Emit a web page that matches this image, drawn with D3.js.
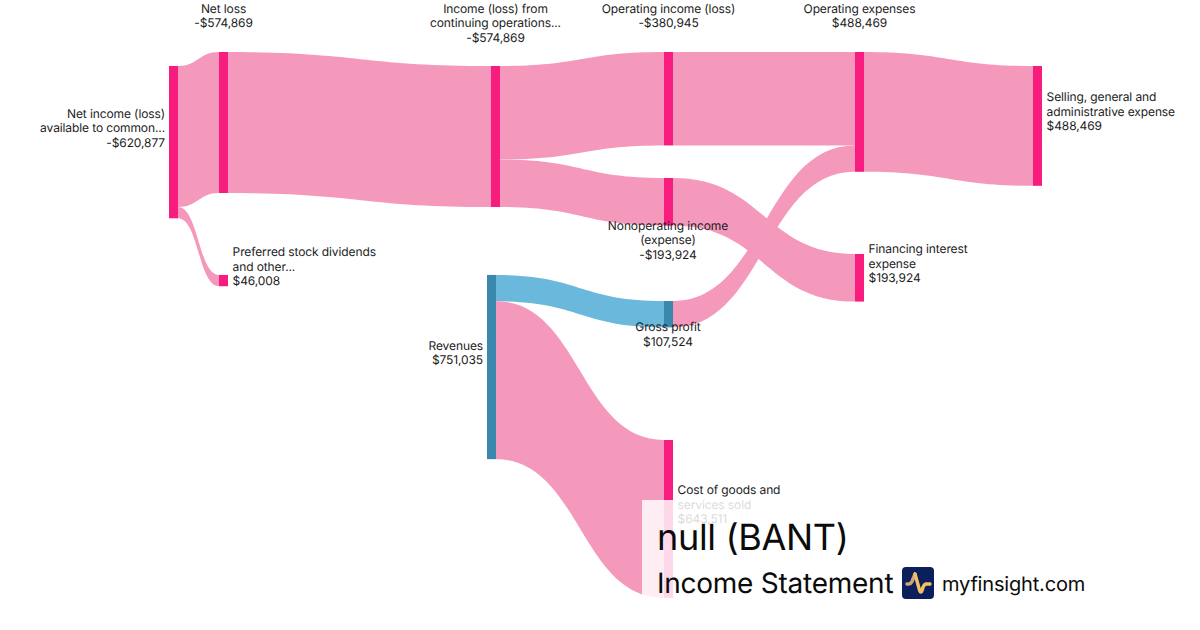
<!DOCTYPE html>
<html>
<head>
<meta charset="utf-8">
<script src="https://cdn.jsdelivr.net/npm/d3@7"></script>
<style>
html,body{margin:0;padding:0;background:#fff;width:1200px;height:630px;overflow:hidden}
text{font-family:Inter,"Noto Sans",sans-serif;text-rendering:geometricPrecision;letter-spacing:-0.009em}
</style>
</head>
<body>
<svg id="c" width="1200" height="630"></svg>
<script>
// ---- data ----
const nodeIds = ["netIncome","netLoss","preferred","income","revenues","opIncome","nonop","gross","cogs","opExp","financing","selling"];
const nodeLabels = [
  ["Net income (loss)","available to common...","-$620,877"],
  ["Net loss","-$574,869"],
  ["Preferred stock dividends","and other...","$46,008"],
  ["Income (loss) from","continuing operations...","-$574,869"],
  ["Revenues","$751,035"],
  ["Operating income (loss)","-$380,945"],
  ["Nonoperating income","(expense)","-$193,924"],
  ["Gross profit","$107,524"],
  ["Cost of goods and","services sold","$643,511"],
  ["Operating expenses","$488,469"],
  ["Financing interest","expense","$193,924"],
  ["Selling, general and","administrative expense","$488,469"]
];
const nodeValues = [620877,574869,46008,574869,751035,380945,193924,107524,643511,488469,193924,488469];
const nodeColumns = ["c0","c1","c1","c2","c2b","c3","c3","c3","c3","c4","c4","c5"];
const nodeOffsets = [57080,0,909000,57080,909000,0,513700,1015200,1582000,0,823600,57080];
const labelSides = ["left","above","right","above","left","above","below","below","right","above","right","right"];
const nodeKinds = ["cost","cost","cost","cost","rev","cost","cost","rev","cost","cost","cost","cost"];
const linkSources = ["netIncome","netIncome","netLoss","income","income","opIncome","gross","nonop","opExp","revenues","revenues"];
const linkTargets = ["netLoss","preferred","income","opIncome","nonop","opExp","opExp","financing","selling","gross","cogs"];
const linkValues = [574869,46008,574869,380945,193924,380945,107524,193924,488469,107524,643511];
const linkKinds = ["cost","cost","cost","cost","cost","cost","cost","cost","cost","rev","cost"];
const titleText = "null (BANT)";
const subtitleText = "Income Statement";
const brandText = "myfinsight.com";

// ---- scales ----
const x = d3.scaleOrdinal().domain(["c0","c1","c2","c2b","c3","c4","c5"]).range([169,219,491,487,664,855,1033]);
const y = d3.scaleLinear().domain([0,1000000]).range([52,297.27]);
const thick = v => y(v)-y(0);
const nodeW = 9;
const color = d3.scaleOrdinal().domain(["cost","rev"]);
const nodeColor = color.copy().range(["#F81C7F","#3B88AF"]);
const linkColor = color.copy().range(["#F599BC","#6BB8DD"]);

const nodes = nodeIds.map((id,i)=>({id,i,x0:x(nodeColumns[i]),y0:y(nodeOffsets[i]),h:thick(nodeValues[i]),out:0,inn:0,
  lines:nodeLabels[i],side:labelSides[i],kind:nodeKinds[i]}));
const byId = new Map(nodes.map(n=>[n.id,n]));
const links = linkSources.map((s,i)=>{
  const a=byId.get(s),b=byId.get(linkTargets[i]),w=thick(linkValues[i]);
  const l={w,kind:linkKinds[i],sx:a.x0+nodeW,sy:a.y0+a.out,tx:b.x0,ty:b.y0+b.inn};
  a.out+=w;b.inn+=w;return l;
});

// each link is a band of constant vertical thickness: a top edge and a reversed bottom edge
const band = d => {
  const mx=(d.sx+d.tx)/2;
  return `M${d.sx},${d.sy}C${mx},${d.sy} ${mx},${d.ty} ${d.tx},${d.ty}`+
         `L${d.tx},${d.ty+d.w}C${mx},${d.ty+d.w} ${mx},${d.sy+d.w} ${d.sx},${d.sy+d.w}Z`;
};
const svg = d3.select("#c");
svg.append("g").selectAll("path").data(links).join("path")
  .attr("d",band).attr("fill",d=>linkColor(d.kind));
svg.append("g").selectAll("rect").data(nodes).join("rect")
  .attr("x",d=>d.x0).attr("y",d=>d.y0).attr("width",nodeW).attr("height",d=>d.h)
  .attr("fill",d=>nodeColor(d.kind));

// labels
const lh = 14.5, fs = 12;
const labels = svg.append("g").attr("font-size",fs).attr("fill","#1c1c1c");
nodes.forEach(n=>{
  const m=n.lines.length; let tx,anchor,cy0;
  if(n.side==="left"){tx=n.x0-4;anchor="end";cy0=n.y0+n.h/2-14.3-(m-1)*lh/2;}
  else if(n.side==="right"){tx=n.x0+nodeW+4.6;anchor="start";cy0=n.y0+n.h/2-14.3-(m-1)*lh/2;}
  else if(n.side==="above"){tx=n.x0+nodeW/2;anchor="middle";cy0=8.5;}
  else {tx=n.x0+nodeW/2-0.5;anchor="middle";cy0=n.y0+n.h-0.3;}
  n.lines.forEach((t,j)=>labels.append("text").attr("x",tx).attr("y",cy0+j*lh).attr("dy","0.36em").attr("text-anchor",anchor).text(t));
});

// footer veil and titles
svg.append("rect").attr("x",642).attr("y",500).attr("width",558).attr("height",130).attr("fill","#fff").attr("opacity",0.83);
svg.append("text").attr("x",657).attr("y",550).attr("font-size",36).attr("fill","#0b0b0b").text(titleText);
svg.append("text").attr("x",657).attr("y",593).attr("font-size",28).attr("fill","#0b0b0b").text(subtitleText);
svg.append("text").attr("x",942).attr("y",591).attr("font-size",20).attr("fill","#0b0b0b").text(brandText);
const logo = svg.append("g").attr("transform","translate(902,567)");
logo.append("rect").attr("width",32).attr("height",32).attr("rx",4).attr("fill","#0A1F5C");
logo.append("path").attr("d","M5 17 C8 17.5,9 16.5,10 14.5 L13 7").attr("fill","none").attr("stroke","#D0A679").attr("stroke-width",3.4).attr("stroke-linecap","round").attr("stroke-linejoin","round");
logo.append("path").attr("d","M13 7 L17.5 23 C18.3 26,19.5 25.5,20.3 23 C21 19.5,22 17.5,24 17 L28 17").attr("fill","none").attr("stroke","#F3C163").attr("stroke-width",3.4).attr("stroke-linecap","round").attr("stroke-linejoin","round");
</script>
</body>
</html>
